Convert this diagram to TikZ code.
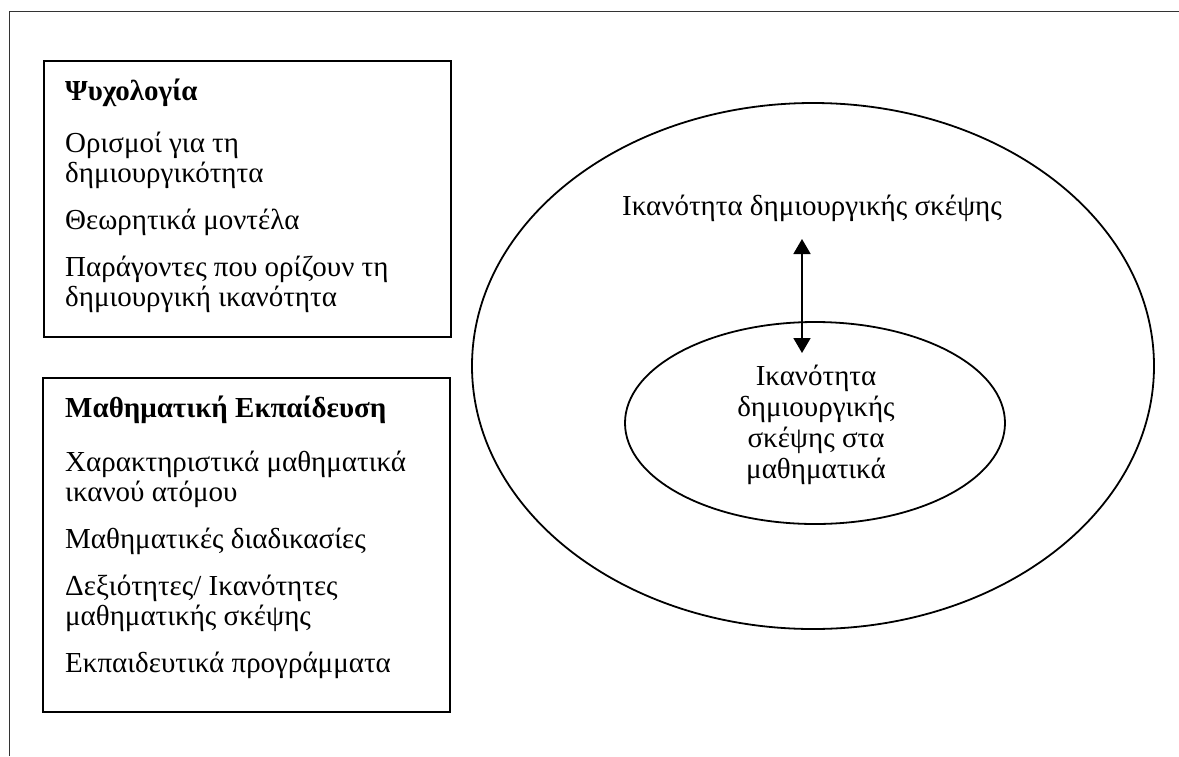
\documentclass[tikz,border=0pt]{standalone}
\usepackage{fontspec}
\setmainfont{Liberation Serif}
\usetikzlibrary{arrows.meta}
\begin{document}
\begin{tikzpicture}[x=1pt,y=-1pt,
  txt/.style={inner sep=0pt,anchor=base west,font=\fontsize{29}{30}\selectfont},
  ctxt/.style={inner sep=0pt,anchor=base,font=\fontsize{29}{30}\selectfont},
  head/.style={txt,font=\fontsize{29}{30}\selectfont\bfseries},
  panel/.style={draw=black,line width=2pt},
  ring/.style={draw=black,line width=1.8pt},
  frameline/.style={draw=black!80,line width=1pt},
  link/.style={line width=1.8pt,{Triangle[length=15pt,width=17pt]}-{Triangle[length=15pt,width=17pt]}}]
\useasboundingbox (0,0) rectangle (1179,756);
% cropped page frame
\coordinate (fTL) at (9,11);
\coordinate (fTR) at (1179,11);
\coordinate (fBL) at (9,756);
\draw[frameline] (fBL) -- (fTL) -- (fTR);
% left panels
\draw[panel] (44,61) rectangle (451,337);
\draw[panel] (43,378) rectangle (450,712);
\node[head] (psy) at (65,100) {Ψυχολογία};
\node[txt] (p1a) at (65,152) {Ορισμοί για τη};
\node[txt] (p1b) at (65,182) {δημιουργικότητα};
\node[txt] (p2) at (65,229) {Θεωρητικά μοντέλα};
\node[txt] (p3a) at (65,276) {Παράγοντες που ορίζουν τη};
\node[txt] (p3b) at (65,306) {δημιουργική ικανότητα};
\node[head] (math) at (65,417) {Μαθηματική Εκπαίδευση};
\node[txt] (m1a) at (65,471) {Χαρακτηριστικά μαθηματικά};
\node[txt] (m1b) at (65,501) {ικανού ατόμου};
\node[txt] (m2) at (65,548) {Μαθηματικές διαδικασίες};
\node[txt] (m3a) at (65,595) {Δεξιότητες/ Ικανότητες};
\node[txt] (m3b) at (65,625) {μαθηματικής σκέψης};
\node[txt] (m4) at (65,672) {Εκπαιδευτικά προγράμματα};
% nested ellipses
\draw[ring] (813,366) ellipse [x radius=341, y radius=263];
\draw[ring] (815,423) ellipse [x radius=190, y radius=101];
\node[ctxt] (gen) at (812,215) {Ικανότητα δημιουργικής σκέψης};
\node[ctxt] (s1) at (816,385) {Ικανότητα};
\node[ctxt] (s2) at (816,416) {δημιουργικής};
\node[ctxt] (s3) at (816,447) {σκέψης στα};
\node[ctxt] (s4) at (816,478) {μαθηματικά};
\coordinate (aTop) at (802,239);
\coordinate (aBot) at (802,353);
\draw[link] (aTop) -- (aBot);
\end{tikzpicture}
\end{document}
